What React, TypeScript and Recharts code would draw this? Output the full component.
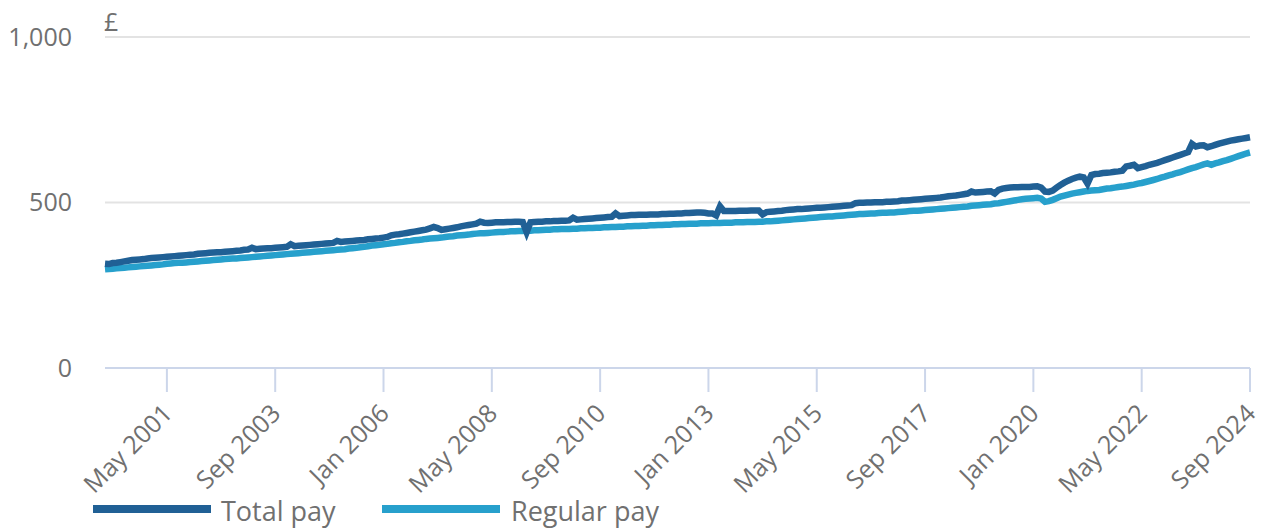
import React from 'react';
import { LineChart, Line, XAxis, YAxis, CartesianGrid } from 'recharts';

const MONTHS = ['Jan', 'Feb', 'Mar', 'Apr', 'May', 'Jun', 'Jul', 'Aug', 'Sep', 'Oct', 'Nov', 'Dec'];
const START_YEAR = 2000;

// average weekly earnings, £, Jan 2000 - Sep 2024
const totalPay = [
  315, 314, 317, 318, 320, 322, 324, 326, 327, 328, 329, 331,
  332, 333, 334, 335, 336, 337, 338, 339, 340, 341, 342, 343,
  345, 346, 347, 348, 349, 350, 350, 351, 352, 353, 354, 355,
  357, 358, 363, 359, 360, 361, 362, 362, 363, 364, 365, 366,
  374, 368, 369, 370, 371, 372, 373, 374, 375, 376, 377, 378,
  384, 381, 382, 383, 384, 385, 386, 387, 389, 390, 391, 392,
  394, 396, 401, 403, 404, 406, 408, 410, 412, 414, 416, 418,
  422, 426, 423, 417, 419, 421, 423, 425, 428, 430, 432, 434,
  436, 442, 439, 438, 439, 440, 440, 440, 441, 441, 442, 442,
  441, 410, 440, 441, 442, 442, 443, 443, 444, 444, 445, 445,
  446, 454, 448, 449, 450, 451, 452, 453, 454, 455, 456, 457,
  467, 459, 460, 461, 462, 462, 463, 463, 463, 464, 464, 464,
  465, 465, 466, 466, 467, 467, 468, 468, 469, 470, 470, 469,
  467, 467, 461, 488, 474, 474, 474, 474, 475, 475, 475, 476,
  476, 476, 464, 471, 472, 473, 474, 475, 477, 478, 479, 480,
  480, 481, 482, 483, 484, 484, 485, 486, 487, 488, 489, 490,
  491, 492, 498, 499, 499, 500, 500, 501, 501, 501, 502, 502,
  503, 504, 506, 506, 507, 508, 509, 510, 511, 512, 513, 514,
  515, 517, 519, 520, 521, 523, 525, 527, 533, 530, 531, 532,
  533, 534, 527, 538, 542, 544, 545, 546, 546, 547, 547, 547,
  548, 549, 545, 533, 532, 536, 545, 553, 560, 566, 571, 575,
  578, 576, 557, 583, 586, 587, 589, 590, 591, 593, 594, 596,
  609, 611, 614, 604, 607, 610, 614, 617, 620, 624, 628, 632,
  636, 640, 644, 648, 652, 677, 669, 672, 673, 667, 670, 674,
  678, 681, 684, 687, 689, 691, 693, 695, 697,
];

const regularPay = [
  298, 299, 300, 301, 302, 303, 304, 305, 306, 307, 308, 309,
  310, 311, 312, 313, 315, 316, 317, 318, 318, 319, 320, 321,
  322, 323, 324, 325, 326, 327, 328, 329, 330, 331, 331, 332,
  333, 334, 335, 336, 337, 338, 339, 340, 341, 342, 343, 344,
  345, 346, 347, 348, 349, 350, 351, 352, 353, 354, 355, 356,
  357, 358, 359, 361, 362, 363, 365, 366, 368, 370, 371, 372,
  374, 375, 377, 378, 380, 381, 383, 384, 386, 387, 388, 390,
  391, 392, 393, 394, 396, 397, 398, 400, 401, 402, 403, 405,
  406, 407, 407, 408, 409, 410, 411, 411, 412, 413, 413, 414,
  414, 415, 415, 416, 416, 417, 418, 418, 419, 419, 420, 420,
  420, 421, 421, 422, 422, 423, 423, 424, 424, 425, 425, 426,
  426, 427, 427, 428, 428, 429, 429, 430, 430, 431, 431, 432,
  432, 433, 433, 434, 434, 435, 435, 436, 436, 436, 437, 437,
  437, 438, 438, 438, 439, 439, 439, 440, 440, 440, 441, 441,
  441, 442, 442, 443, 443, 444, 445, 446, 447, 448, 449, 450,
  451, 452, 453, 454, 455, 456, 457, 458, 458, 459, 460, 461,
  462, 463, 464, 465, 465, 466, 467, 467, 468, 469, 469, 470,
  470, 471, 472, 473, 474, 475, 475, 476, 477, 478, 479, 480,
  481, 482, 483, 484, 485, 486, 487, 488, 490, 491, 492, 493,
  494, 495, 497, 498, 500, 502, 504, 506, 508, 510, 511, 512,
  513, 514, 512, 502, 504, 508, 513, 518, 521, 524, 527, 529,
  531, 533, 535, 536, 537, 538, 540, 542, 543, 545, 547, 548,
  550, 552, 554, 557, 559, 562, 565, 568, 571, 575, 578, 582,
  585, 589, 592, 596, 600, 604, 607, 611, 615, 618, 614, 618,
  621, 625, 628, 632, 636, 640, 644, 648, 651,
];

const xTicks = [
  'May 2001', 'Sep 2003', 'Jan 2006', 'May 2008', 'Sep 2010', 'Jan 2013',
  'May 2015', 'Sep 2017', 'Jan 2020', 'May 2022', 'Sep 2024',
];
const yTicks = [0, 500, 1000];

const TOTAL_COLOR = '#206095';
const REGULAR_COLOR = '#27a0cc';
const TEXT_COLOR = '#707070';
const FONT = '"Open Sans", sans-serif';

const data = totalPay.map((v, i) => ({
  month: `${MONTHS[i % 12]} ${START_YEAR + Math.floor(i / 12)}`,
  total: v,
  regular: regularPay[i],
}));

function MonthTick({ x, y, payload }: any) {
  return (
    <g transform={`translate(${x + 7},${y + 21})`}>
      <text textAnchor="end" transform="rotate(-45)" fill={TEXT_COLOR} fontSize={25} fontFamily={FONT}>
        {payload.value}
      </text>
    </g>
  );
}

export default function App() {
  return (
    <div style={{ position: 'absolute', left: 0, top: 0, width: 1262, height: 528, background: '#fff' }}>
      <LineChart width={1262} height={528} data={data} margin={{ top: 37, right: 12, left: 0, bottom: 0 }}>
        <CartesianGrid vertical={false} stroke="#e3e3e3" strokeWidth={2} />
        <XAxis
          dataKey="month"
          ticks={xTicks}
          interval={0}
          height={160}
          tickSize={24}
          axisLine={{ stroke: '#ccd6ea', strokeWidth: 2 }}
          tickLine={{ stroke: '#ccd6ea', strokeWidth: 2 }}
          tick={<MonthTick />}
        />
        <YAxis
          domain={[0, 1000]}
          ticks={yTicks}
          interval={0}
          width={105}
          axisLine={false}
          tickLine={false}
          tickMargin={27}
          tick={{ fill: TEXT_COLOR, fontSize: 25, fontFamily: FONT }}
          tickFormatter={(v: number) => v.toLocaleString('en-GB')}
        />
        <Line type="linear" dataKey="regular" stroke={REGULAR_COLOR} strokeWidth={6.5} dot={false} isAnimationActive={false} />
        <Line type="linear" dataKey="total" stroke={TOTAL_COLOR} strokeWidth={6.5} dot={false} isAnimationActive={false} />
      </LineChart>
      <svg width={1262} height={528} style={{ position: 'absolute', left: 0, top: 0, pointerEvents: 'none' }}>
        <text x={104} y={31} fill={TEXT_COLOR} fontSize={25} fontFamily={FONT}>£</text>
        <rect x={93} y={505} width={118} height={8} fill={TOTAL_COLOR} />
        <text x={221} y={521} fill={TEXT_COLOR} fontSize={27} fontFamily={FONT}>Total pay</text>
        <rect x={382} y={505} width={118} height={8} fill={REGULAR_COLOR} />
        <text x={511} y={521} fill={TEXT_COLOR} fontSize={27} fontFamily={FONT}>Regular pay</text>
      </svg>
    </div>
  );
}
